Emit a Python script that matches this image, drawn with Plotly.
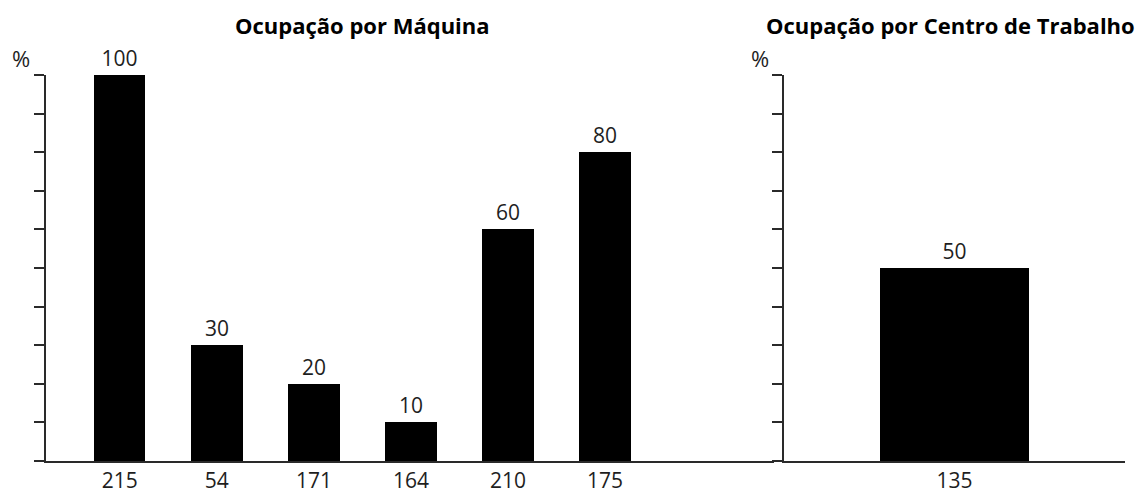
import plotly.graph_objects as go

# Occupation per machine (left panel)
machines = ["215", "54", "171", "164", "210", "175"]
machine_occupation = [100, 30, 20, 10, 60, 80]

# Occupation per work centre (right panel)
work_centres = ["135"]
centre_occupation = [50]

y_ticks = list(range(0, 101, 10))

FONT = "'Open Sans', Lato, sans-serif"
AXIS_COLOR = "#2a2a2a"
TEXT_COLOR = "#1e1e1e"

W, H = 1146, 495
left_dom = [46 / W, 774 / W]
right_dom = [784 / W, 1125 / W]
y_dom = [(H - 461) / H, (H - 75) / H]

fig = go.Figure()

fig.add_trace(go.Bar(
    x=machines, y=machine_occupation,
    text=[str(v) for v in machine_occupation],
    textposition="outside", cliponaxis=False,
    textfont=dict(family=FONT, size=21, color=TEXT_COLOR),
    marker=dict(color="black", line=dict(width=0)),
    width=0.53, xaxis="x", yaxis="y",
))

fig.add_trace(go.Bar(
    x=work_centres, y=centre_occupation,
    text=[str(v) for v in centre_occupation],
    textposition="outside", cliponaxis=False,
    textfont=dict(family=FONT, size=21, color=TEXT_COLOR),
    marker=dict(color="black", line=dict(width=0)),
    width=0.437, xaxis="x2", yaxis="y2",
))

xaxis_common = dict(
    type="category", showline=True, linecolor=AXIS_COLOR, linewidth=2,
    ticks="", showgrid=False, zeroline=False,
    tickfont=dict(family=FONT, size=21, color=TEXT_COLOR),
)
yaxis_common = dict(
    range=[0, 100], tickvals=y_ticks, showticklabels=False,
    ticks="outside", ticklen=10, tickwidth=2, tickcolor=AXIS_COLOR,
    showline=True, linecolor=AXIS_COLOR, linewidth=2,
    showgrid=False, zeroline=False, domain=y_dom,
)

title_font = dict(family=FONT, size=22, color="black")

fig.update_layout(
    width=W, height=H,
    margin=dict(l=0, r=0, t=0, b=0),
    paper_bgcolor="white", plot_bgcolor="white",
    showlegend=False, bargap=0,
    xaxis=dict(xaxis_common, domain=left_dom, range=[-0.76, 6.74]),
    yaxis=dict(yaxis_common, anchor="x"),
    xaxis2=dict(xaxis_common, domain=right_dom, range=[-0.5, 0.5], anchor="y2"),
    yaxis2=dict(yaxis_common, anchor="x2"),
    annotations=[
        dict(text="<b>Ocupação por Máquina</b>", x=362 / W, y=1 - 25 / H,
             xref="paper", yref="paper", xanchor="center", yanchor="middle",
             showarrow=False, font=title_font),
        dict(text="<b>Ocupação por Centro de Trabalho</b>", x=950 / W, y=1 - 25 / H,
             xref="paper", yref="paper", xanchor="center", yanchor="middle",
             showarrow=False, font=title_font),
        dict(text="%", x=21 / W, y=1 - 58 / H, xref="paper", yref="paper",
             xanchor="center", yanchor="middle", showarrow=False,
             font=dict(family=FONT, size=22, color=TEXT_COLOR)),
        dict(text="%", x=760 / W, y=1 - 58 / H, xref="paper", yref="paper",
             xanchor="center", yanchor="middle", showarrow=False,
             font=dict(family=FONT, size=22, color=TEXT_COLOR)),
    ],
)

fig.write_html("out.html")
